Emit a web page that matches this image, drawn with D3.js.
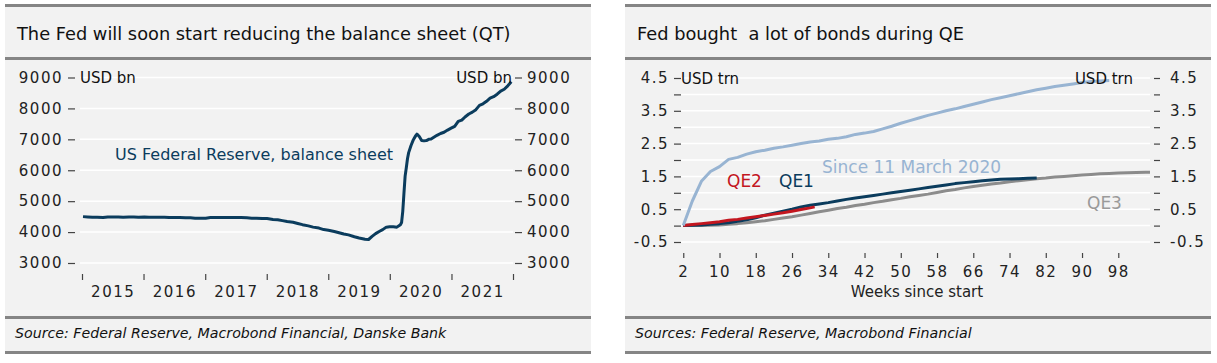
<!doctype html>
<html>
<head>
<meta charset="utf-8">
<style>
    body { margin: 0; background: #fff; }
    text { font-family: "DejaVu Sans", sans-serif; }
</style>
</head>
<body>

<div id="container">
</div>

<script src="https://cdnjs.cloudflare.com/ajax/libs/d3/7.8.5/d3.min.js"></script>
<script type="text/javascript">

    // ---- left chart: Fed balance sheet, USD bn ----
    var bsDates = [
        "2015-01-07", "2015-02-04", "2015-03-04", "2015-04-01", "2015-05-06", "2015-06-03", "2015-07-01", "2015-08-05",
        "2015-09-02", "2015-10-07", "2015-11-04", "2015-12-02",
        "2016-01-06", "2016-02-03", "2016-03-02", "2016-04-06", "2016-05-04", "2016-06-01", "2016-07-06", "2016-08-03",
        "2016-09-07", "2016-10-05", "2016-11-02", "2016-12-07",
        "2017-01-04", "2017-02-01", "2017-03-01", "2017-04-05", "2017-05-03", "2017-06-07", "2017-07-05", "2017-08-02",
        "2017-09-06", "2017-10-04", "2017-11-01", "2017-12-06",
        "2018-01-03", "2018-02-07", "2018-03-07", "2018-04-04", "2018-05-02", "2018-06-06", "2018-07-04", "2018-08-01",
        "2018-09-05", "2018-10-03", "2018-11-07", "2018-12-05",
        "2019-01-02", "2019-02-06", "2019-03-06", "2019-04-03", "2019-05-01", "2019-06-05", "2019-07-03", "2019-08-07",
        "2019-08-28", "2019-09-18", "2019-10-09", "2019-10-30", "2019-11-20", "2019-12-11", "2019-12-31",
        "2020-01-22", "2020-02-12", "2020-03-04", "2020-03-11", "2020-03-18", "2020-03-25", "2020-04-01", "2020-04-08",
        "2020-04-15", "2020-04-22", "2020-05-06", "2020-05-20", "2020-06-03", "2020-06-10", "2020-06-24", "2020-07-08",
        "2020-07-22", "2020-08-05", "2020-08-19", "2020-09-02", "2020-09-16", "2020-10-07", "2020-10-28", "2020-11-18",
        "2020-12-09", "2020-12-30",
        "2021-01-20", "2021-02-10", "2021-03-03", "2021-03-24", "2021-04-14", "2021-05-05", "2021-05-26", "2021-06-16",
        "2021-07-07", "2021-07-28", "2021-08-18", "2021-09-08", "2021-09-29", "2021-10-20", "2021-11-10", "2021-12-01",
        "2021-12-22"
    ];
    var bsValues = [
        4500, 4490, 4480, 4480, 4470, 4490, 4490, 4490, 4480, 4490, 4490, 4480,
        4490, 4480, 4480, 4480, 4480, 4470, 4470, 4470, 4460, 4460, 4450, 4450,
        4450, 4470, 4470, 4470, 4470, 4470, 4470, 4470, 4460, 4450, 4450, 4440,
        4440, 4410, 4400, 4370, 4340, 4320, 4280, 4240, 4200, 4160, 4130, 4080,
        4060, 4020, 3980, 3940, 3910, 3850, 3810, 3770,
        3760, 3860, 3950, 4020, 4080, 4160, 4170,
        4170, 4160, 4240, 4310, 4670, 5250, 5810, 6080,
        6370, 6570, 6800, 6990, 7120, 7170, 7090, 6960,
        6950, 6960, 7000, 7010, 7060, 7130, 7190, 7230,
        7300, 7360,
        7420, 7580, 7620, 7730, 7820, 7880, 7960, 8100,
        8150, 8230, 8330, 8380, 8460, 8560, 8620, 8730,
        8860
    ];
    var bsTicks = [3000, 4000, 5000, 6000, 7000, 8000, 9000];
    var bsYears = [2015, 2016, 2017, 2018, 2019, 2020, 2021];

    // ---- right chart: cumulative bond purchases, USD trn, by week ----
    var weeksCovid = [2, 4, 6, 8, 10, 12, 14, 16, 18, 20, 22, 24, 26, 28, 30, 32, 34, 36, 38, 40, 42, 44, 46, 48,
        50, 52, 54, 56, 58, 60, 62, 64, 66, 68, 70, 72, 74, 76, 78, 80, 82, 84, 86, 88, 90, 92, 94, 96];
    var since2020 = [0.00, 0.75, 1.35, 1.65, 1.80, 2.02, 2.08, 2.18, 2.25, 2.30, 2.36, 2.40, 2.45, 2.50, 2.55, 2.58,
        2.63, 2.66, 2.71, 2.78, 2.82, 2.87, 2.95, 3.03, 3.12, 3.20, 3.28, 3.36, 3.43, 3.50, 3.56, 3.63, 3.70, 3.77,
        3.84, 3.90, 3.96, 4.02, 4.08, 4.14, 4.19, 4.24, 4.28, 4.32, 4.36, 4.39, 4.41, 4.42];

    var weeksQE1 = [2, 4, 6, 8, 10, 12, 14, 16, 18, 20, 22, 24, 26, 28, 30, 32, 34, 36, 38, 40, 42, 44, 46, 48,
        50, 52, 54, 56, 58, 60, 62, 64, 66, 68, 70, 72, 74, 76, 78, 80];
    var qe1 = [0.00, 0.01, 0.02, 0.04, 0.06, 0.09, 0.13, 0.18, 0.24, 0.32, 0.38, 0.44, 0.50, 0.57, 0.62, 0.66,
        0.70, 0.75, 0.80, 0.84, 0.88, 0.92, 0.96, 1.00, 1.04, 1.08, 1.12, 1.16, 1.20, 1.24, 1.28, 1.31, 1.34, 1.37,
        1.39, 1.41, 1.42, 1.43, 1.44, 1.45];

    var weeksQE2 = [2, 4, 6, 8, 10, 12, 14, 16, 18, 20, 22, 24, 26, 28, 30, 31];
    var qe2 = [0.00, 0.03, 0.06, 0.09, 0.12, 0.16, 0.19, 0.23, 0.27, 0.31, 0.35, 0.39, 0.44, 0.49, 0.54, 0.57];

    var weeksQE3 = [2, 4, 6, 8, 10, 12, 14, 16, 18, 20, 22, 24, 26, 28, 30, 32, 34, 36, 38, 40, 42, 44, 46, 48,
        50, 52, 54, 56, 58, 60, 62, 64, 66, 68, 70, 72, 74, 76, 78, 80, 82, 84, 86, 88, 90, 92, 94, 96, 98, 100,
        102, 104, 105];
    var qe3 = [0.00, 0.00, 0.00, 0.01, 0.02, 0.04, 0.06, 0.09, 0.12, 0.15, 0.19, 0.23, 0.27, 0.32, 0.37, 0.42,
        0.47, 0.52, 0.56, 0.61, 0.65, 0.70, 0.74, 0.79, 0.83, 0.88, 0.92, 0.96, 1.01, 1.06, 1.10, 1.15, 1.19, 1.23,
        1.27, 1.30, 1.34, 1.37, 1.40, 1.43, 1.45, 1.48, 1.50, 1.52, 1.54, 1.56, 1.58, 1.59, 1.60, 1.61, 1.62, 1.63,
        1.63];
    var qeTicks = [-0.5, 0, 0.5, 1, 1.5, 2, 2.5, 3, 3.5, 4, 4.5];
    var weekTicks = [2, 10, 18, 26, 34, 42, 50, 58, 66, 74, 82, 90, 98];

    var darkBlue = "#0b3c5d";
    var lightBlue = "#98b4d2";
    var red = "#c3161f";
    var grey = "#8c8c8c";
    var border = "#858585";

    var svg = d3.select("#container").append("svg")
        .attr("width", 1217)
        .attr("height", 363);

    function panel(x0, x1, title, source) {
        svg.append("rect")
            .attr("x", x0).attr("y", 5)
            .attr("width", x1 - x0).attr("height", 348)
            .attr("fill", "#f2f2f2");
        [5.5, 58.5, 317.5, 352.5].forEach(function (y) {
            svg.append("line")
                .attr("x1", x0).attr("x2", x1)
                .attr("y1", y).attr("y2", y)
                .attr("stroke", border)
                .attr("stroke-width", 3);
        });
        svg.append("text")
            .attr("x", x0 + 12).attr("y", 40)
            .attr("font-size", "17.8px")
            .attr("fill", "#111")
            .text(title);
        svg.append("text")
            .attr("x", x0 + 10).attr("y", 338)
            .attr("font-size", "14.2px")
            .attr("font-style", "italic")
            .attr("fill", "#111")
            .text(source);
    }

    function styleAxis(g) {
        g.select(".domain").remove();
        g.selectAll("line").attr("stroke", "#444").attr("stroke-width", 1.2);
        g.selectAll("text")
            .attr("font-family", "DejaVu Sans")
            .attr("font-size", "15px")
            .attr("letter-spacing", "1.5px")
            .attr("fill", "#222");
    }

    // ---------- left ----------
    panel(5, 591, "The Fed will soon start reducing the balance sheet (QT)",
        "Source: Federal Reserve, Macrobond Financial, Danske Bank");

    var parse = d3.timeParse("%Y-%m-%d");
    var bs = bsDates.map(function (d, i) { return [parse(d), bsValues[i]]; });

    var xL = d3.scaleTime()
        .domain([new Date(2015, 0, 1), new Date(2022, 0, 1)])
        .range([82, 513]);
    var yL = d3.scaleLinear()
        .domain([3000, 9000])
        .range([263, 77.5]);

    svg.append("g").selectAll("line")
        .data(bsTicks).enter().append("line")
        .attr("x1", 80).attr("x2", 513)
        .attr("y1", function (d) { return yL(d); })
        .attr("y2", function (d) { return yL(d); })
        .attr("stroke", "#fff")
        .attr("stroke-width", 1.5);

    svg.append("g")
        .attr("transform", "translate(75,0)")
        .call(d3.axisLeft(yL).tickValues(bsTicks).tickSize(7).tickPadding(5).tickFormat(d3.format("d")))
        .call(styleAxis);
    svg.append("g")
        .attr("transform", "translate(515,0)")
        .call(d3.axisRight(yL).tickValues(bsTicks).tickSize(7).tickPadding(5).tickFormat(d3.format("d")))
        .call(styleAxis);

    svg.append("g")
        .attr("transform", "translate(0,274)")
        .call(d3.axisBottom(xL)
            .tickValues(d3.range(2015, 2023).map(function (y) { return new Date(y, 0, 1); }))
            .tickSize(6).tickFormat(""))
        .call(styleAxis);
    svg.append("g")
        .attr("transform", "translate(0,280)")
        .call(d3.axisBottom(xL)
            .tickValues(bsYears.map(function (y) { return new Date(y, 6, 2); }))
            .tickSize(0).tickPadding(6)
            .tickFormat(d3.timeFormat("%Y")))
        .call(styleAxis);

    svg.append("path")
        .datum(bs)
        .attr("fill", "none")
        .attr("stroke", darkBlue)
        .attr("stroke-width", 3)
        .attr("stroke-linejoin", "round")
        .attr("d", d3.line()
            .x(function (d) { return xL(d[0]); })
            .y(function (d) { return yL(d[1]); }));

    svg.append("text")
        .attr("x", 80).attr("y", 83)
        .attr("font-size", "15px").attr("fill", "#111")
        .text("USD bn");
    svg.append("text")
        .attr("x", 512).attr("y", 83)
        .attr("text-anchor", "end")
        .attr("font-size", "15px").attr("fill", "#111")
        .text("USD bn");
    svg.append("text")
        .attr("x", 115).attr("y", 160)
        .attr("font-size", "16px").attr("fill", darkBlue)
        .text("US Federal Reserve, balance sheet");

    // ---------- right ----------
    panel(625, 1211, "Fed bought \u00a0a lot of bonds during QE",
        "Sources: Federal Reserve, Macrobond Financial");

    var xR = d3.scaleLinear()
        .domain([1.5, 105])
        .range([681, 1150]);
    var yR = d3.scaleLinear()
        .domain([-0.5, 4.5])
        .range([242, 78]);

    svg.append("g").selectAll("line")
        .data(qeTicks).enter().append("line")
        .attr("x1", 681).attr("x2", 1150)
        .attr("y1", function (d) { return yR(d); })
        .attr("y2", function (d) { return yR(d); })
        .attr("stroke", "#fff")
        .attr("stroke-width", 1.5);

    var qeFmt = function (d) { return Math.abs(d % 1) === 0.5 ? d.toFixed(1) : ""; };
    svg.append("g")
        .attr("transform", "translate(681,0)")
        .call(d3.axisLeft(yR).tickValues(qeTicks).tickSize(7).tickPadding(5).tickFormat(qeFmt))
        .call(styleAxis);
    svg.append("g")
        .attr("transform", "translate(1154,0)")
        .call(d3.axisRight(yR).tickValues(qeTicks).tickSize(6).tickPadding(10).tickFormat(qeFmt))
        .call(styleAxis);

    svg.append("g")
        .attr("transform", "translate(0,253)")
        .call(d3.axisBottom(xR).tickValues(weekTicks).tickSize(5).tickPadding(8))
        .call(styleAxis);

    svg.append("text")
        .attr("x", 917).attr("y", 297)
        .attr("text-anchor", "middle")
        .attr("font-size", "15px").attr("fill", "#222")
        .text("Weeks since start");

    var qeLine = d3.line()
        .x(function (d) { return xR(d[0]); })
        .y(function (d) { return yR(d[1]); });

    var series = [
        {weeks: weeksQE3, values: qe3, color: grey},
        {weeks: weeksQE1, values: qe1, color: darkBlue},
        {weeks: weeksQE2, values: qe2, color: red},
        {weeks: weeksCovid, values: since2020, color: lightBlue}
    ];
    series.forEach(function (s) {
        svg.append("path")
            .datum(d3.zip(s.weeks, s.values))
            .attr("fill", "none")
            .attr("stroke", s.color)
            .attr("stroke-width", 3)
            .attr("stroke-linejoin", "round")
            .attr("d", qeLine);
    });

    svg.append("text")
        .attr("x", 681).attr("y", 84)
        .attr("font-size", "15px").attr("fill", "#111")
        .text("USD trn");
    svg.append("text")
        .attr("x", 1133).attr("y", 84)
        .attr("text-anchor", "end")
        .attr("font-size", "15px").attr("fill", "#111")
        .text("USD trn");

    var labels = [
        {t: "Since 11 March 2020", x: 822, y: 173, c: lightBlue},
        {t: "QE2", x: 727, y: 187, c: red},
        {t: "QE1", x: 779, y: 187, c: darkBlue},
        {t: "QE3", x: 1087, y: 209, c: "#9a9a9a"}
    ];
    svg.append("g").selectAll("text")
        .data(labels).enter().append("text")
        .attr("x", function (d) { return d.x; })
        .attr("y", function (d) { return d.y; })
        .attr("font-size", "17px")
        .attr("fill", function (d) { return d.c; })
        .text(function (d) { return d.t; });

</script>
</body>
</html>
